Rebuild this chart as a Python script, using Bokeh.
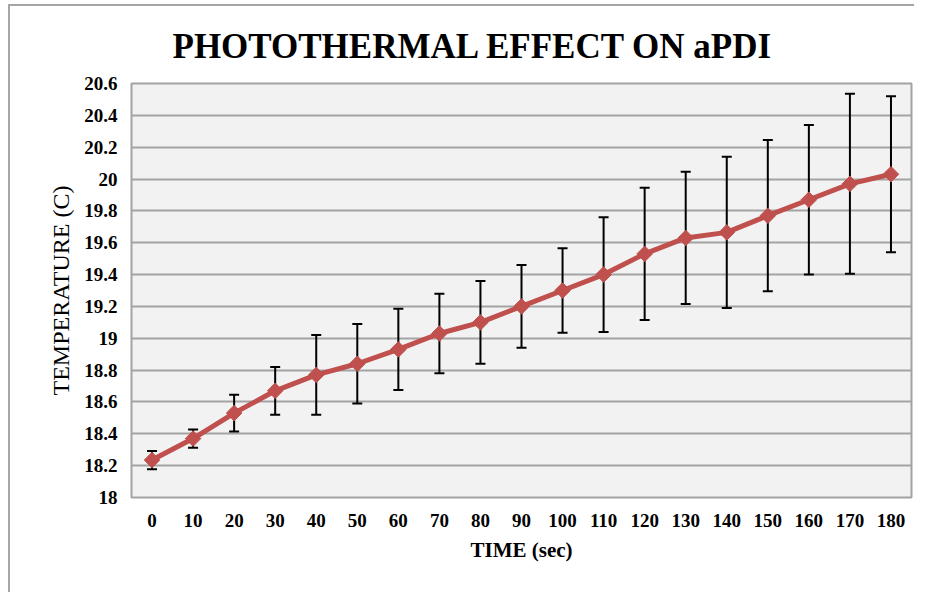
import math
from bokeh.plotting import figure
from bokeh.models import (ColumnDataSource, Whisker, TeeHead, FixedTicker,
                          CustomJSTickFormatter, FactorRange, Range1d)
from bokeh.embed import file_html
from bokeh.resources import INLINE

# ---- data ----
time_labels = ["0", "10", "20", "30", "40", "50", "60", "70", "80", "90",
               "100", "110", "120", "130", "140", "150", "160", "170", "180"]
temperature = [18.235, 18.37, 18.53, 18.67, 18.77, 18.84, 18.93, 19.03, 19.10,
               19.20, 19.30, 19.40, 19.53, 19.63, 19.665, 19.77, 19.87, 19.97, 20.03]
error = [0.057, 0.057, 0.115, 0.15, 0.25, 0.25, 0.255, 0.25, 0.26, 0.26,
         0.265, 0.36, 0.415, 0.415, 0.475, 0.475, 0.47, 0.565, 0.49]
y_ticks = [18.0, 18.2, 18.4, 18.6, 18.8, 19.0, 19.2, 19.4, 19.6, 19.8,
           20.0, 20.2, 20.4, 20.6]

lower = [t - e for t, e in zip(temperature, error)]
upper = [t + e for t, e in zip(temperature, error)]
src = ColumnDataSource(dict(x=time_labels, y=temperature, lower=lower, upper=upper))

SERIF = "Liberation Serif"
GRID = "#a3a3a3"
RED = "#c0504d"

p = figure(x_range=FactorRange(factors=time_labels), y_range=Range1d(y_ticks[0], y_ticks[-1]),
           width=906, height=588, output_backend="svg", toolbar_location=None,
           min_border_left=121, min_border_right=5, min_border_top=76, min_border_bottom=97,
           background_fill_color="#f2f2f2", border_fill_color="white")
p.styles = {"border-top": "2px solid #a6a6a6", "border-left": "2px solid #a6a6a6",
            "margin-top": "4px", "margin-left": "8px"}

p.title.text = "PHOTOTHERMAL EFFECT ON aPDI"
p.title.text_font = SERIF
p.title.text_font_size = "35px"
p.title.text_font_style = "bold"
p.title.text_color = "black"
p.title.align = "left"
p.title.offset = 41
p.title.standoff = 36

p.outline_line_color = GRID
p.outline_line_width = 2

p.xgrid.grid_line_color = None
p.ygrid.grid_line_color = GRID
p.ygrid.grid_line_width = 2

p.yaxis.ticker = FixedTicker(ticks=y_ticks)
p.yaxis.formatter = CustomJSTickFormatter(code="return (Math.round(tick*10)/10).toString();")

for ax in (p.xaxis[0], p.yaxis[0]):
    ax.axis_line_color = None
    ax.major_tick_line_color = None
    ax.minor_tick_line_color = None
    ax.major_tick_out = 0
    ax.major_tick_in = 0
    ax.major_label_text_font = SERIF
    ax.major_label_text_font_size = "19px"
    ax.major_label_text_font_style = "bold"
    ax.major_label_text_color = "black"
    ax.axis_label_text_font = SERIF
    ax.axis_label_text_color = "black"

p.xaxis.major_label_standoff = 16
p.yaxis.major_label_standoff = 14
p.xaxis.axis_label = "TIME (sec)"
p.xaxis.axis_label_text_font_size = "21px"
p.xaxis.axis_label_text_font_style = "bold"
p.xaxis.axis_label_standoff = 8
p.yaxis.axis_label = "TEMPERATURE (C)"
p.yaxis.axis_label_text_font_size = "24px"
p.yaxis.axis_label_text_font_style = "normal"
p.yaxis.axis_label_standoff = 7

whisk = Whisker(source=src, base="x", lower="lower", upper="upper",
                line_color="black", line_width=2,
                upper_head=TeeHead(size=10, line_color="black", line_width=2),
                lower_head=TeeHead(size=10, line_color="black", line_width=2))
p.add_layout(whisk)

p.line("x", "y", source=src, line_color=RED, line_width=5)
p.scatter("x", "y", source=src, marker="square", size=11, angle=math.pi / 4,
          fill_color=RED, line_color=RED)

open("out.html", "w").write(file_html(p, INLINE))
